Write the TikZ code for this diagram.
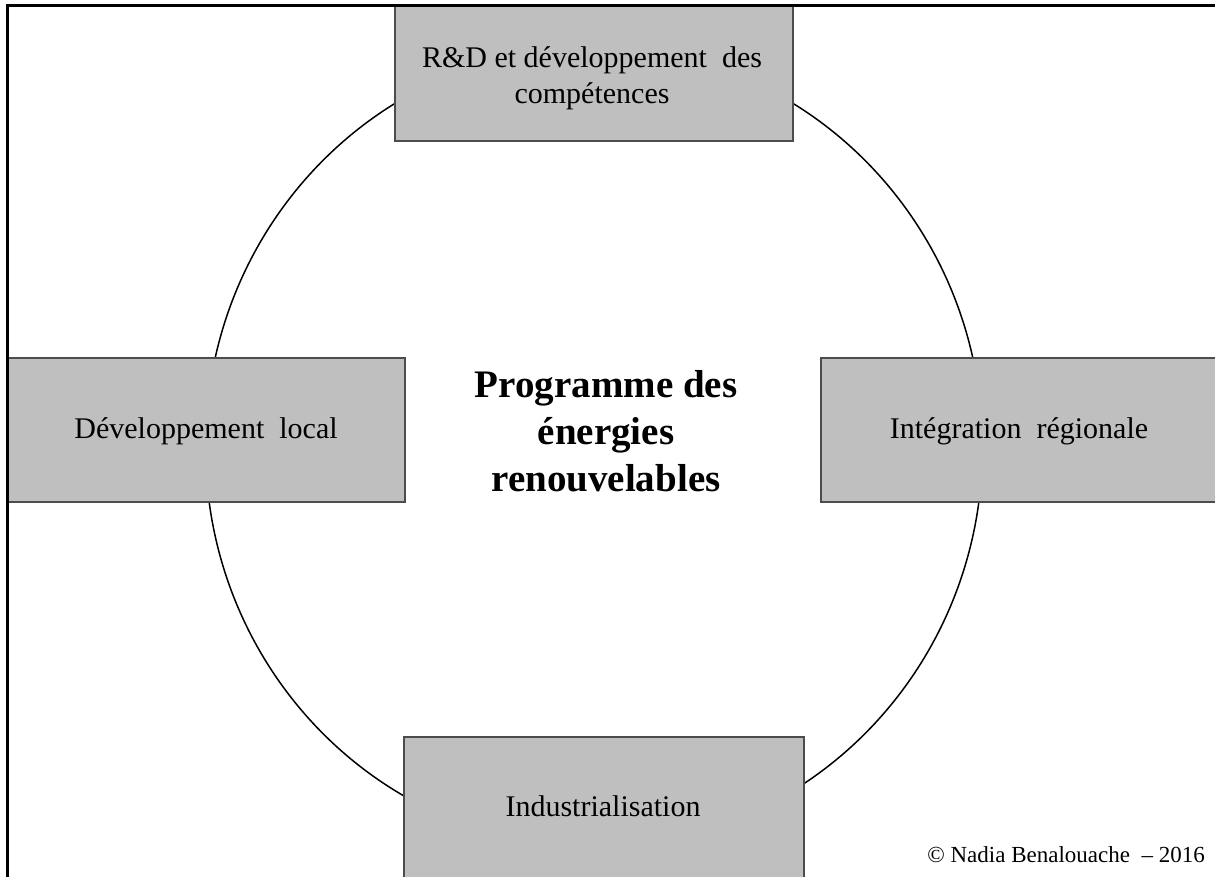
\documentclass[tikz,border=0pt]{standalone}
\usepackage{fontspec}
\setmainfont{Liberation Serif}
\usetikzlibrary{shapes.geometric}
\begin{document}
\begin{tikzpicture}[x=1pt,y=-1pt,
  boxstyle/.style={draw=black!70,line width=1.3pt,fill=black!25,rectangle,inner sep=0pt},
  boxlabel/.style={align=center,inner sep=0pt,font=\rmfamily\fontsize{30}{36}\selectfont},
  ring/.style={draw=black,line width=1.5pt,ellipse,inner sep=0pt},
  framestyle/.style={draw=black,line width=3pt}
]
\useasboundingbox (0,0) rectangle (1215,877);
\fill[white] (0,0) rectangle (1215,877);
% ring
\node[ring,minimum width=777pt,minimum height=800pt] (ring) at (594,447) {};
% boxes
\node[boxstyle,minimum width=398pt,minimum height=136pt] (boxT) at (594,73) {};
\node[boxstyle,minimum width=397pt,minimum height=144pt] (boxL) at (206.5,430) {};
\node[boxstyle,minimum width=396pt,minimum height=144pt] (boxR) at (1019,430) {};
\node[boxstyle,minimum width=400pt,minimum height=144pt] (boxB) at (604,809) {};
% labels
\node[boxlabel] (labT) at (592,78) {R\&D et développement\ \ des\\compétences};
\node[boxlabel] (labL) at (206,431) {Développement\ \ local};
\node[boxlabel] (labR) at (1019,431) {Intégration\ \ régionale};
\node[boxlabel] (labB) at (603,806) {Industrialisation};
% title
\node[align=center,inner sep=0pt,font=\rmfamily\fontsize{39}{47}\selectfont\bfseries] (title) at (606,431) {Programme des\\énergies\\renouvelables};
% copyright
\node[anchor=east,inner sep=0pt,font=\rmfamily\fontsize{23}{27}\selectfont] (copy) at (1205,855) {© Nadia Benalouache\ \ –\ 2016};
% frame
\coordinate (fTL) at (7,6);
\coordinate (fTR) at (1215,6);
\coordinate (fBL) at (7,877);
\draw[framestyle] (fTR) -- (fTL) -- (fBL);
\end{tikzpicture}
\end{document}
